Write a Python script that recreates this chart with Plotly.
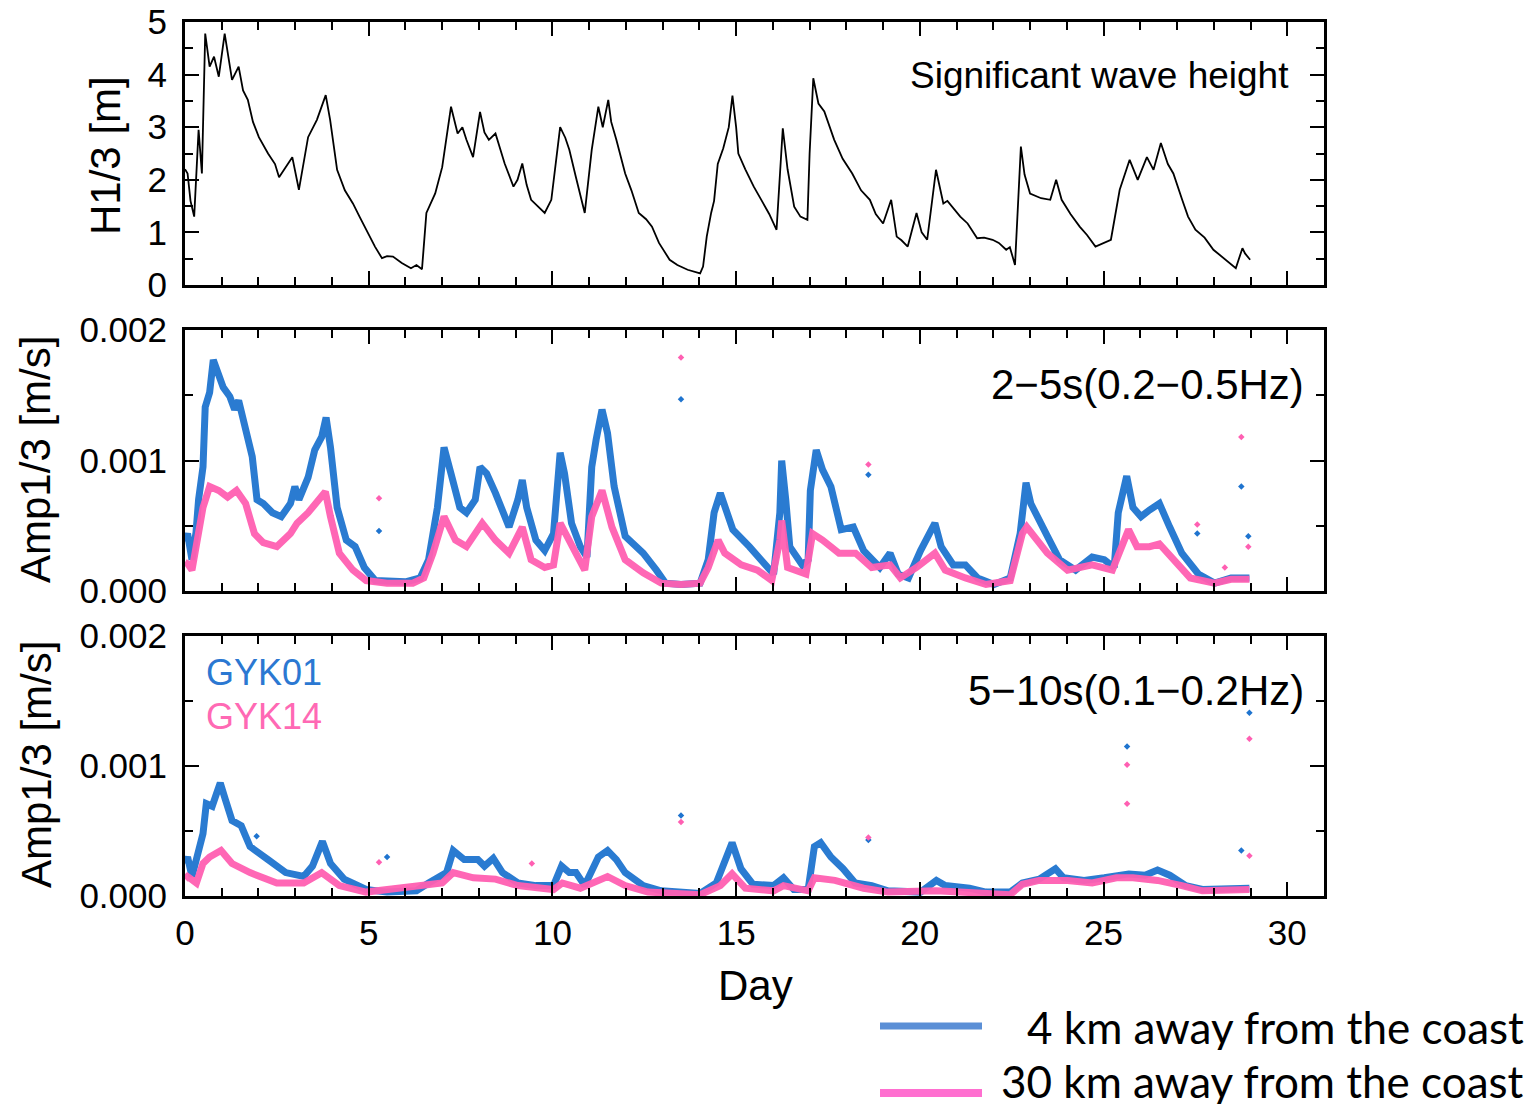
import plotly.graph_objects as go

# ---------------- data ----------------
# Significant wave height H1/3 [m]
wave_day = [0.0, 0.07, 0.15, 0.25, 0.37, 0.46, 0.55, 0.67, 0.79, 0.92, 1.08, 1.18, 1.28, 1.46, 1.58,
            1.71, 1.85, 2.01, 2.26, 2.45, 2.56, 2.74, 2.92, 3.1, 3.35, 3.59, 3.83, 3.95, 4.14, 4.35,
            4.57, 4.75, 4.93, 5.17, 5.36, 5.5, 5.66, 5.9, 6.15, 6.3, 6.45, 6.52, 6.57, 6.81, 7.0,
            7.24, 7.42, 7.55, 7.66, 7.84, 8.03, 8.15, 8.27, 8.45, 8.7, 8.94, 9.05, 9.18, 9.3, 9.42,
            9.6, 9.79, 9.97, 10.1, 10.21, 10.35, 10.46, 10.64, 10.88, 11.07, 11.25, 11.37, 11.52,
            11.6, 11.74, 11.98, 12.15, 12.35, 12.55, 12.71, 12.9, 13.19, 13.4, 13.68, 14.02, 14.1,
            14.2, 14.32, 14.4, 14.5, 14.65, 14.8, 14.9, 15.0, 15.06, 15.25, 15.48, 15.7, 15.9, 16.1,
            16.2, 16.27, 16.4, 16.58, 16.75, 16.94, 17.0, 17.1, 17.24, 17.4, 17.67, 17.9, 18.16,
            18.4, 18.64, 18.8, 19.0, 19.22, 19.37, 19.5, 19.67, 19.8, 19.91, 20.05, 20.2, 20.44,
            20.64, 20.75, 20.88, 21.1, 21.3, 21.56, 21.75, 21.98, 22.15, 22.35, 22.45, 22.59, 22.75,
            22.85, 23.0, 23.3, 23.55, 23.71, 23.86, 24.1, 24.35, 24.55, 24.78, 25.0, 25.2, 25.44,
            25.71, 25.93, 26.18, 26.36, 26.56, 26.75, 26.9, 27.14, 27.3, 27.5, 27.75, 27.99, 28.3,
            28.6, 28.78, 28.85, 28.99]
wave_h = [2.2, 2.12, 1.6, 1.3, 2.95, 2.12, 4.78, 4.15, 4.34, 3.96, 4.78, 4.3, 3.9, 4.15, 3.7,
          3.52, 3.1, 2.81, 2.5, 2.3, 2.05, 2.24, 2.43, 1.81, 2.81, 3.14, 3.61, 3.14, 2.19, 1.8,
          1.55, 1.3, 1.05, 0.73, 0.51, 0.55, 0.54, 0.42, 0.32, 0.38, 0.3, 0.9, 1.37, 1.74, 2.24,
          3.39, 2.88, 3.0, 2.76, 2.43, 3.29, 2.9, 2.76, 2.88, 2.31, 1.87, 2.0, 2.31, 1.9, 1.62,
          1.5, 1.37, 1.62, 2.4, 3.0, 2.8, 2.57, 2.05, 1.37, 2.57, 3.39, 3.0, 3.52,
          3.1, 2.76, 2.12, 1.8, 1.37, 1.25, 1.11, 0.8, 0.48, 0.38, 0.29, 0.22, 0.35,
          0.92, 1.37, 1.6, 2.3, 2.6, 3.0, 3.6, 3.0, 2.5, 2.2, 1.87, 1.6, 1.35, 1.05,
          2.2, 2.98, 2.2, 1.49, 1.3, 1.24, 2.5, 3.93, 3.45, 3.3, 2.76, 2.4, 2.12,
          1.8, 1.62, 1.35, 1.17, 1.62, 0.92, 0.85, 0.73, 1.1, 1.37, 1.0, 0.86, 2.19,
          1.55, 1.6, 1.49, 1.3, 1.17, 0.89, 0.9, 0.86, 0.8, 0.67, 0.72, 0.38, 2.63,
          2.1, 1.74, 1.65, 1.62, 2.0, 1.62, 1.35, 1.11, 0.95, 0.73, 0.8, 0.86, 1.81,
          2.38, 2.0, 2.43, 2.19, 2.7, 2.3, 2.12, 1.62, 1.3, 1.05, 0.9, 0.67, 0.5,
          0.32, 0.7, 0.6, 0.48]

# Amp1/3 [m/s], 2-5 s band
b25_gyk01_day = [0.0, 0.07, 0.19, 0.3, 0.37, 0.49, 0.55, 0.67, 0.77, 0.92, 1.04, 1.22, 1.35, 1.46,
                 1.59, 1.71, 1.83, 1.96, 2.13, 2.38, 2.62, 2.87, 2.99, 3.1, 3.35, 3.53, 3.72, 3.84,
                 3.96, 4.14, 4.39, 4.63, 4.88, 5.18, 5.6, 6.0, 6.4, 6.63, 6.87, 7.05, 7.24, 7.48,
                 7.66, 7.9, 8.03, 8.21, 8.45, 8.82, 9.06, 9.18, 9.3, 9.55, 9.79, 10.03, 10.21,
                 10.33, 10.52, 10.76, 10.94, 11.07, 11.19, 11.35, 11.5, 11.68, 11.98, 12.47, 12.83,
                 13.08, 13.5, 14.02, 14.24, 14.4, 14.57, 14.69, 14.91, 15.36, 15.9, 16.02, 16.19,
                 16.24, 16.35, 16.46, 16.8, 16.96, 17.02, 17.18, 17.35, 17.58, 17.86, 18.19, 18.47,
                 18.91, 19.19, 19.41, 19.69, 20.02, 20.41, 20.58, 20.91, 21.24, 21.57, 22.02, 22.46,
                 22.73, 22.89, 23.02, 23.47, 23.8, 24.24, 24.69, 25.02, 25.29, 25.4, 25.63, 25.8,
                 26.02, 26.25, 26.52, 26.8, 27.13, 27.58, 28.02, 28.47, 28.97]
b25_gyk01 = [0.00038, 0.00044, 0.00024, 0.00045, 0.0007, 0.00095, 0.00141, 0.00152, 0.00177, 0.00164,
             0.00156, 0.00149, 0.00139, 0.00146, 0.00131, 0.00113, 0.00103, 0.0007, 0.00067, 0.0006,
             0.00057, 0.00067, 0.0008, 0.0007, 0.00087, 0.00108, 0.00118, 0.00133, 0.0011, 0.00064,
             0.00039, 0.00034, 0.00018, 0.00008, 0.00007, 0.00007, 0.0001, 0.00024, 0.00064, 0.0011,
             0.0009, 0.00064, 0.0006, 0.0007, 0.00095, 0.0009, 0.00075, 0.00049, 0.0007, 0.00085,
             0.00064, 0.00039, 0.00031, 0.00044, 0.00106, 0.0009, 0.00052, 0.00034, 0.00026, 0.00095,
             0.00116, 0.00139, 0.00121, 0.0008, 0.00042, 0.00029, 0.00016, 0.00006, 0.00005, 0.00006,
             0.00024, 0.0006, 0.00075, 0.00064, 0.00047, 0.00034, 0.00018, 0.00013, 0.0006, 0.001,
             0.0007, 0.00034, 0.0002, 0.00024, 0.00077, 0.00108, 0.00093, 0.0008, 0.00047, 0.00049,
             0.00031, 0.00018, 0.00029, 0.00013, 0.0001, 0.00031, 0.00052, 0.00034, 0.0002, 0.0002,
             0.0001, 0.00005, 0.0001, 0.00044, 0.00083, 0.00067, 0.00042, 0.00024, 0.00016, 0.00026,
             0.00024, 0.00018, 0.0006, 0.00088, 0.00064, 0.00057, 0.00062, 0.00067, 0.00049, 0.00029,
             0.00013, 0.00006, 0.0001, 0.0001]
b25_gyk14_day = [0.0, 0.07, 0.19, 0.37, 0.49, 0.67, 0.92, 1.16, 1.4, 1.65, 1.89, 2.13, 2.5, 2.87,
                 3.05, 3.35, 3.66, 3.82, 3.96, 4.2, 4.57, 4.93, 5.5, 6.2, 6.5, 6.75, 7.05, 7.36,
                 7.66, 8.09, 8.45, 8.82, 9.18, 9.42, 9.79, 10.03, 10.21, 10.52, 10.88, 11.07, 11.35,
                 11.62, 11.98, 12.47, 12.96, 13.5, 14.02, 14.24, 14.51, 14.69, 15.14, 15.58, 15.97,
                 16.19, 16.24, 16.4, 16.9, 17.08, 17.35, 17.8, 18.25, 18.69, 19.19, 19.47, 19.91,
                 20.41, 20.69, 21.24, 21.8, 22.46, 22.79, 22.91, 23.47, 24.02, 24.69, 25.24, 25.57,
                 25.68, 25.91, 26.25, 26.52, 26.91, 27.36, 28.02, 28.47, 28.97]
b25_gyk14 = [0.00022, 0.00021, 0.00016, 0.00042, 0.00064, 0.0008, 0.00077, 0.00072, 0.00077, 0.00067,
             0.00044, 0.00037, 0.00034, 0.00044, 0.00052, 0.0006, 0.0007, 0.00076, 0.00057, 0.00029,
             0.00016, 0.00008, 0.00006, 0.00006, 0.0001, 0.00029, 0.00057, 0.00039, 0.00034, 0.00052,
             0.00039, 0.00029, 0.00049, 0.00024, 0.00018, 0.0002, 0.00052, 0.00034, 0.00016, 0.00057,
             0.00077, 0.00049, 0.00024, 0.00014, 0.00006, 0.00005, 0.00006, 0.00018, 0.00039, 0.00029,
             0.0002, 0.00016, 0.00008, 0.00039, 0.00054, 0.00018, 0.00013, 0.00044, 0.00039, 0.00029,
             0.00029, 0.00018, 0.0002, 0.0001, 0.00018, 0.00029, 0.00016, 0.0001, 0.00005, 0.00008,
             0.00044, 0.00049, 0.00029, 0.00016, 0.0002, 0.00016, 0.00039, 0.00047, 0.00034, 0.00034,
             0.00036, 0.00024, 0.0001, 0.00006, 0.00009, 0.00009]
# isolated samples in the 2-5 s band
b25_gyk01_iso_day = [5.28, 13.5, 18.6, 27.55, 28.75, 28.94]
b25_gyk01_iso = [0.00046, 0.00147, 0.00089, 0.00044, 0.0008, 0.00042]
b25_gyk14_iso_day = [5.28, 13.5, 18.6, 27.55, 28.3, 28.75, 28.94]
b25_gyk14_iso = [0.00071, 0.00179, 0.00097, 0.00051, 0.00018, 0.00118, 0.00034]

# Amp1/3 [m/s], 5-10 s band
b510_gyk01_day = [0.0, 0.07, 0.19, 0.37, 0.49, 0.58, 0.74, 0.86, 0.96, 1.1, 1.28, 1.53, 1.77, 2.26,
                  2.74, 3.23, 3.47, 3.74, 3.96, 4.33, 4.93, 5.5, 6.3, 6.63, 7.12, 7.3, 7.6, 7.97,
                  8.15, 8.39, 8.64, 9.06, 9.55, 10.03, 10.25, 10.46, 10.64, 10.88, 11.25, 11.5,
                  11.74, 11.98, 12.47, 12.96, 13.5, 14.02, 14.46, 14.69, 14.89, 15.13, 15.46, 16.02,
                  16.29, 16.57, 16.96, 17.13, 17.3, 17.58, 17.91, 18.24, 18.69, 19.13, 20.02, 20.45,
                  20.69, 21.35, 21.8, 22.46, 22.79, 23.25, 23.69, 23.91, 24.47, 25.02, 25.69, 26.13,
                  26.47, 26.8, 27.24, 27.69, 28.47, 28.97]
b510_gyk01 = [0.00025, 0.0003, 0.00015, 0.00033, 0.00048, 0.00071, 0.00069, 0.00079, 0.00087, 0.00074,
              0.00058, 0.00054, 0.00038, 0.00028, 0.00018, 0.00015, 0.00023, 0.00042, 0.00025, 0.00013,
              0.00005, 0.00003, 0.00004, 0.0001, 0.00018, 0.00035, 0.00028, 0.00028, 0.00023, 0.00029,
              0.00018, 0.0001, 0.00008, 0.00008, 0.00023, 0.00018, 0.00018, 0.00008, 0.0003, 0.00035,
              0.00028, 0.00018, 0.00008, 0.00004, 0.00003, 0.00002, 0.0001, 0.00028, 0.00041, 0.00021,
              0.00009, 0.00008, 0.00014, 0.00005, 0.00005, 0.00038, 0.00041, 0.0003, 0.00021, 0.0001,
              0.00008, 0.00004, 0.00003, 0.00012, 0.00008, 0.00006, 0.00003, 0.00003, 0.0001, 0.00013,
              0.00021, 0.00014, 0.00012, 0.00014, 0.00017, 0.00016, 0.0002, 0.00016, 0.00008, 0.00005,
              0.00005, 0.00006]
b510_gyk14_day = [0.0, 0.07, 0.31, 0.49, 0.67, 0.98, 1.28, 1.77, 2.5, 3.23, 3.72, 4.2, 4.93, 6.5,
                  7.0, 7.3, 7.85, 8.45, 9.06, 10.03, 10.27, 10.76, 11.5, 11.98, 12.6, 14.02, 14.57,
                  14.89, 15.25, 16.02, 16.29, 16.96, 17.13, 17.69, 18.47, 19.13, 20.45, 22.46, 22.79,
                  23.25, 24.02, 24.69, 25.35, 25.8, 26.47, 27.13, 27.69, 28.97]
b510_gyk14 = [0.00013, 0.00015, 0.0001, 0.00025, 0.0003, 0.00035, 0.00025, 0.00018, 0.0001, 0.0001,
              0.00018, 0.00008, 0.00003, 0.00008, 0.0001, 0.00018, 0.00014, 0.00013, 0.00008, 0.00005,
              0.0001, 0.00006, 0.00015, 0.00008, 0.00003, 0.00001, 0.00008, 0.00017, 0.00006, 0.00004,
              0.00008, 0.00004, 0.00014, 0.00012, 0.00006, 0.00003, 0.00004, 0.00001, 0.00009, 0.00012,
              0.00012, 0.0001, 0.00014, 0.00014, 0.00012, 0.00008, 0.00004, 0.00005]
# isolated samples in the 5-10 s band
b510_gyk01_iso_day = [1.95, 5.5, 13.5, 18.6, 25.64, 28.75, 28.97]
b510_gyk01_iso = [0.00046, 0.0003, 0.00062, 0.00043, 0.00115, 0.00035, 0.00141]
b510_gyk14_iso_day = [5.28, 9.44, 13.5, 18.6, 25.64, 25.64, 28.97, 28.97]
b510_gyk14_iso = [0.00026, 0.00025, 0.00057, 0.00045, 0.00101, 0.00071, 0.00121, 0.00031]

day_ticks = [0, 5, 10, 15, 20, 25, 30]

# ---------------- style ----------------
BLUE = "#1f74cf"
PINK = "#ff5fb2"
FONT = "Liberation Sans, Arial, sans-serif"
W, H = 1540, 1107

def px_x(v):
    return v / W

def px_y(v):
    return 1 - v / H

x_dom = [px_x(185), px_x(1324)]
panels = [(22, 285), (330, 591), (636, 896)]

fig = go.Figure()

# top panel: wave height
fig.add_trace(go.Scatter(x=wave_day, y=wave_h, mode="lines",
                         line=dict(color="black", width=1.8),
                         xaxis="x", yaxis="y", showlegend=False))

band_sets = [
    ("x2", "y2", b25_gyk01_day, b25_gyk01, b25_gyk14_day, b25_gyk14,
     b25_gyk01_iso_day, b25_gyk01_iso, b25_gyk14_iso_day, b25_gyk14_iso),
    ("x3", "y3", b510_gyk01_day, b510_gyk01, b510_gyk14_day, b510_gyk14,
     b510_gyk01_iso_day, b510_gyk01_iso, b510_gyk14_iso_day, b510_gyk14_iso),
]
for xa, ya, d1, v1, d2, v2, i1d, i1v, i2d, i2v in band_sets:
    fig.add_trace(go.Scatter(x=d1, y=v1, mode="lines", line=dict(color=BLUE, width=7),
                             opacity=0.95, xaxis=xa, yaxis=ya, showlegend=False))
    fig.add_trace(go.Scatter(x=i1d, y=i1v, mode="markers",
                             marker=dict(color=BLUE, size=5, symbol="diamond"),
                             xaxis=xa, yaxis=ya, showlegend=False))
    fig.add_trace(go.Scatter(x=d2, y=v2, mode="lines", line=dict(color=PINK, width=7),
                             opacity=0.95, xaxis=xa, yaxis=ya, showlegend=False))
    fig.add_trace(go.Scatter(x=i2d, y=i2v, mode="markers",
                             marker=dict(color=PINK, size=5, symbol="diamond"),
                             xaxis=xa, yaxis=ya, showlegend=False))

axis_common = dict(showline=True, linecolor="black", linewidth=3, mirror="ticks",
                   ticks="inside", tickcolor="black", tickwidth=2, ticklen=14,
                   showgrid=False, zeroline=False, automargin=False,
                   tickfont=dict(family=FONT, size=35, color="black"))

layout = dict(width=W, height=H, margin=dict(l=0, r=0, t=0, b=0, autoexpand=False),
              plot_bgcolor="white", paper_bgcolor="white", showlegend=False)

for i, (top, bot) in enumerate(panels):
    sfx = "" if i == 0 else str(i + 1)
    xa = dict(axis_common, domain=x_dom, range=[0, 31], tickvals=day_ticks,
              anchor="y" + sfx, ticklabelstandoff=4,
              minor=dict(ticks="inside", dtick=1, ticklen=8, tickwidth=2, tickcolor="black"),
              showticklabels=(i == 2))
    ya = dict(axis_common, domain=[px_y(bot), px_y(top)], anchor="x" + sfx,
              ticklabelstandoff=8)
    if i == 0:
        ya.update(range=[0, 5], dtick=1,
                  minor=dict(ticks="inside", dtick=0.5, ticklen=8, tickwidth=2, tickcolor="black"))
    else:
        ya.update(range=[0, 0.002], dtick=0.001, tickformat=".3f",
                  minor=dict(ticks="inside", dtick=0.0005, ticklen=8, tickwidth=2, tickcolor="black"))
    layout["xaxis" + sfx] = xa
    layout["yaxis" + sfx] = ya

fig.update_layout(**layout)

ann = []
def label(text, x, y, size, color="black", xanchor="center", family=FONT, angle=0, box_h=None):
    a = dict(text=text, x=px_x(x), y=px_y(y), xref="paper", yref="paper",
             xanchor=xanchor, yanchor="middle", showarrow=False, textangle=angle,
             font=dict(family=family, size=size, color=color))
    if box_h is not None:
        a["height"] = box_h
        a["valign"] = "middle"
    ann.append(a)

label("H1/3 [m]", 105, 155, 42, angle=-90)
label("Amp1/3 [m/s]", 36, 460, 42, angle=-90)
label("Amp1/3 [m/s]", 36, 765, 42, angle=-90)
label("Day", 755, 985, 42)
label("Significant wave height", 1291, 75, 37, xanchor="right")
label("2\u22125s(0.2\u22120.5Hz)", 1306, 384, 42, xanchor="right")
label("5\u221210s(0.1\u22120.2Hz)", 1306, 690, 42, xanchor="right")
label("GYK01", 204, 672, 36, color="#2b78d2", xanchor="left", box_h=36)
label("GYK14", 204, 716, 36, color="#ff69b4", xanchor="left", box_h=36)
label("4 km away from the coast", 1526, 1027, 44, xanchor="right",
      family="Lato, sans-serif", box_h=46)
label("30 km away from the coast", 1526, 1081, 44, xanchor="right",
      family="Lato, sans-serif", box_h=46)
fig.update_layout(annotations=ann)

# legend swatches
fig.add_shape(type="line", xref="paper", yref="paper", x0=px_x(880), x1=px_x(982),
              y0=px_y(1026), y1=px_y(1026), line=dict(color="#5b8fd6", width=7))
fig.add_shape(type="line", xref="paper", yref="paper", x0=px_x(880), x1=px_x(982),
              y0=px_y(1093), y1=px_y(1093), line=dict(color="#ff6fd0", width=8))

fig.write_html("out.html")
